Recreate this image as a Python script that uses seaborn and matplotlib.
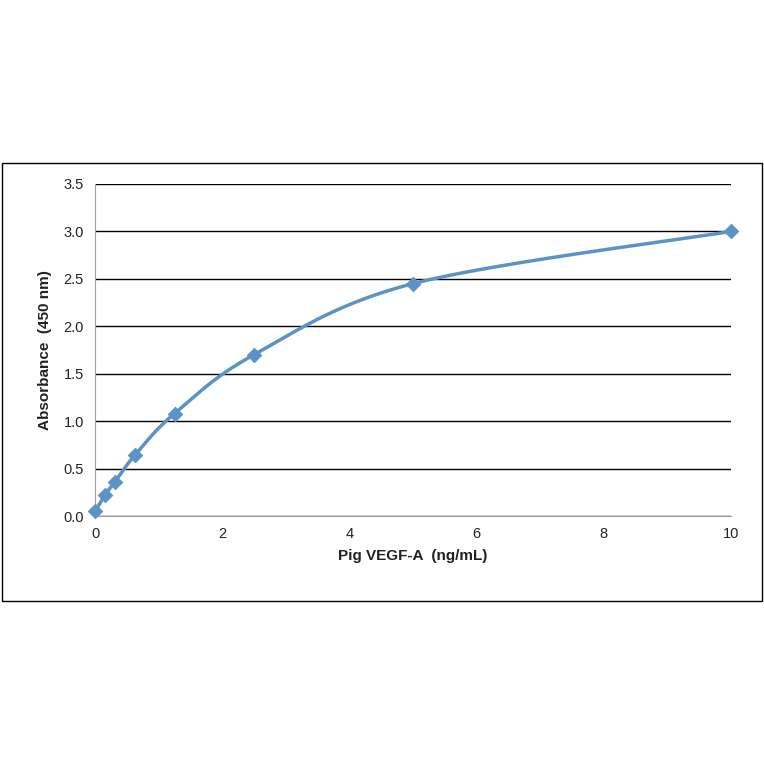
import matplotlib
matplotlib.use("Agg")
import matplotlib.pyplot as plt
import numpy as np
import seaborn as sns
from matplotlib.patches import Rectangle

conc = [0, 0.156, 0.313, 0.625, 1.25, 2.5, 5, 10]
absorb = [0.05, 0.22, 0.36, 0.64, 1.08, 1.70, 2.45, 3.00]
line_color = "#5b93c7"

sns.set_style("white")
plt.rcParams["font.family"] = ["Liberation Sans", "DejaVu Sans"]


def smooth(x, y, n=40):
    # Excel-like smoothed line via Catmull-Rom segments
    p = np.column_stack([x, y]).astype(float)
    p = np.vstack([p[0], p, p[-1]])
    out = []
    t = np.linspace(0, 1, n)[:, None]
    for i in range(1, len(p) - 2):
        p0, p1, p2, p3 = p[i - 1], p[i], p[i + 1], p[i + 2]
        seg = 0.5 * ((2 * p1) + (-p0 + p2) * t + (2 * p0 - 5 * p1 + 4 * p2 - p3) * t**2
                     + (-p0 + 3 * p1 - 3 * p2 + p3) * t**3)
        out.append(seg)
    s = np.vstack(out)
    return s[:, 0], s[:, 1]


fig = plt.figure(figsize=(7.64, 7.64), dpi=100)
fig.patches.append(Rectangle((2 / 764, 163 / 764), 760 / 764, 438 / 764, transform=fig.transFigure,
                             fill=False, edgecolor="black", linewidth=1))
ax = fig.add_axes([95 / 764, 248 / 764, 636 / 764, 332 / 764])

sx, sy = smooth(conc, absorb)
ax.plot(sx, sy, color=line_color, linewidth=2.5, clip_on=False)
sns.scatterplot(x=conc, y=absorb, marker="D", s=55, color=line_color, edgecolor=line_color,
                ax=ax, zorder=3, clip_on=False)

ax.set_xlim(0, 10)
ax.set_ylim(0, 3.5)
ax.set_xticks(np.arange(0, 11, 2))
ax.set_yticks(np.arange(0, 3.51, 0.5))
ax.set_yticklabels([f"{v:.1f}" for v in np.arange(0, 3.51, 0.5)])
ax.yaxis.grid(True, color="black", linewidth=1)
ax.set_axisbelow(True)
for name, s in ax.spines.items():
    s.set_visible(name in ("left", "bottom"))
    s.set_color("#a0a0a0")
ax.tick_params(labelsize=10.5, length=3, color="#a0a0a0", pad=5, labelcolor="#222222")
ax.set_xlabel("Pig VEGF-A  (ng/mL)", fontsize=11, fontweight="bold", labelpad=6, color="#222222")
ax.set_ylabel("Absorbance  (450 nm)", fontsize=11, fontweight="bold", labelpad=8, color="#222222")

fig.savefig("out.png", dpi=100)
